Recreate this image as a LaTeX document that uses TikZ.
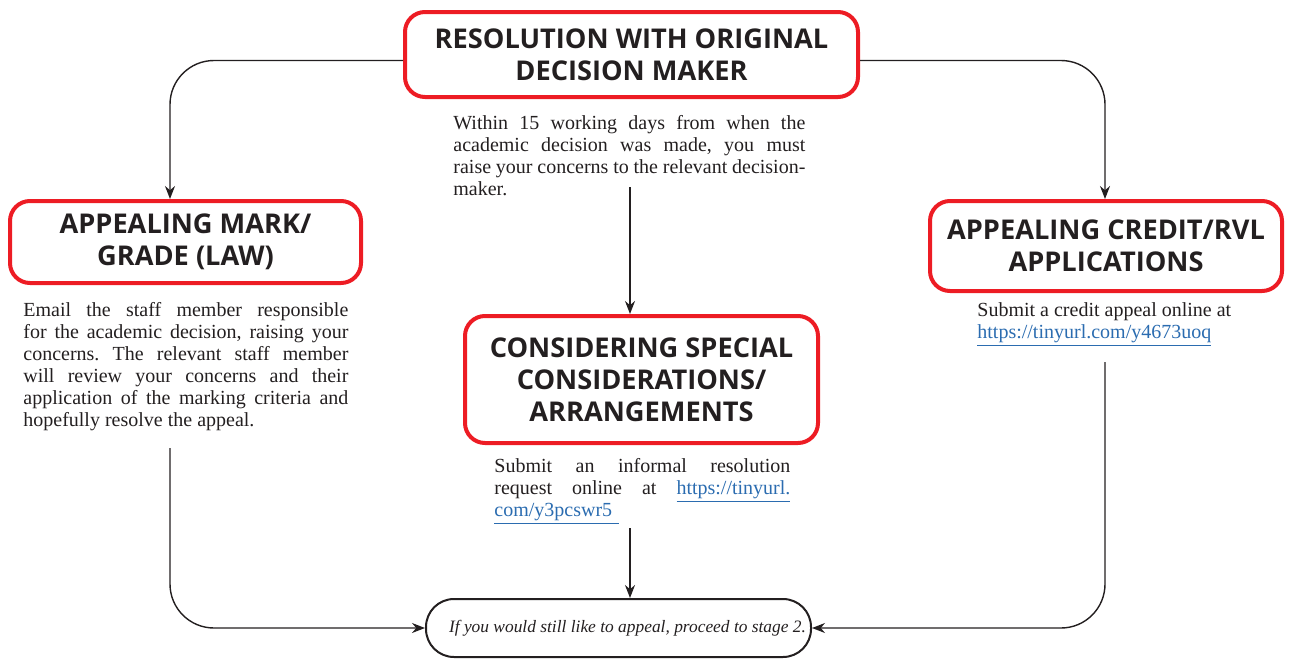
\documentclass[tikz,border=0pt]{standalone}
\usepackage{fontspec}
\setmainfont{Liberation Serif}
\newfontfamily\headfont{Open Sans}
\usetikzlibrary{positioning,arrows.meta}
\definecolor{boxred}{RGB}{237,28,36}
\definecolor{inkgray}{RGB}{35,31,32}
\definecolor{linkblue}{RGB}{43,108,176}
\tikzset{
  redbox/.style={draw=boxred, line width=2pt, rounded corners=10pt, align=center,
    font=\headfont\bfseries\fontsize{13.6}{16}\selectfont, text=inkgray, inner sep=0pt},
  infotext/.style={inner sep=0pt, anchor=north west, align=justify,
    font=\frenchspacing\fontsize{10}{11}\selectfont, text=inkgray},
  flow/.style={draw=inkgray, line width=0.7pt, rounded corners=22pt,
    -{Stealth[length=6.5pt,width=5pt]}},
}
\newcommand{\weblink}[1]{\textcolor{linkblue}{\underline{#1}}}

\begin{document}
\begin{tikzpicture}[x=0.5pt,y=-0.5pt]
	\useasboundingbox (0,0) rectangle (1290,659);
	% boxes
	\node[redbox, minimum width=226.5pt, minimum height=42.5pt] (resolve) at (631.5,54.5)
		{RESOLUTION WITH ORIGINAL\\DECISION MAKER};
	\node[redbox, minimum width=175.5pt, minimum height=41pt] (markgrade) at (185.5,242)
		{APPEALING MARK/\\GRADE (LAW)};
	\node[redbox, minimum width=176pt, minimum height=45pt] (credit) at (1106,246)
		{APPEALING CREDIT/RVL\\APPLICATIONS};
	\node[redbox, minimum width=176.5pt, minimum height=63.5pt] (special) at (641.5,379.5)
		{CONSIDERING SPECIAL\\CONSIDERATIONS/\\ARRANGEMENTS};
	\node[draw=inkgray, line width=1pt, rounded corners=14pt, minimum width=192.5pt,
		minimum height=29pt, inner sep=0pt, text=inkgray,
		font=\itshape\fontsize{8.7}{11}\selectfont] (stage) at (618.5,628)
		{\hspace*{9pt}If you would still like to appeal, proceed to stage 2.};
	% texts
	\node[infotext, text width=176pt] (resolvetext) at (453,115)
		{Within 15 working days from when the\linebreak
		academic decision was made, you must\linebreak
		raise your concerns to the relevant decision-\linebreak
		maker.};
	\node[infotext, text width=162.5pt] (marktext) at (23,302)
		{Email the staff member responsible\linebreak
		for the academic decision, raising your\linebreak
		concerns. The relevant staff member\linebreak
		will review your concerns and their\linebreak
		application of the marking criteria and\linebreak
		hopefully resolve the appeal.};
	\node[infotext, align=left] (credittext) at (977,302)
		{Submit a credit appeal online at\\
		\weblink{https://tinyurl.com/y4673uoq}};
	\node[infotext, text width=148pt] (specialtext) at (494,458)
		{Submit an informal resolution\linebreak
		request online at \weblink{https://tinyurl.}\linebreak
		\weblink{com/y3pcswr5\,\,}};
	% free ends
	\coordinate (markin) at (170,199);
	\coordinate (specialout) at (630,187);
	\coordinate (specialin) at (630,314);
	\coordinate (stageout) at (630,528);
	\coordinate (stagein) at (630,598);
	\coordinate (markout) at (170,448);
	\coordinate (creditout) at (1105,362);
	% connectors
	\draw[flow] ([yshift=-3pt]resolve.west) -| (markin);
	\draw[flow] ([yshift=-3pt]resolve.east) -| ([xshift=-0.5pt]credit.north);
	\draw[flow] (specialout) -- (specialin);
	\draw[flow] (stageout) -- (stagein);
	\draw[flow] (markout) |- (stage.west);
	\draw[flow] (creditout) |- (stage.east);
\end{tikzpicture}
\end{document}
